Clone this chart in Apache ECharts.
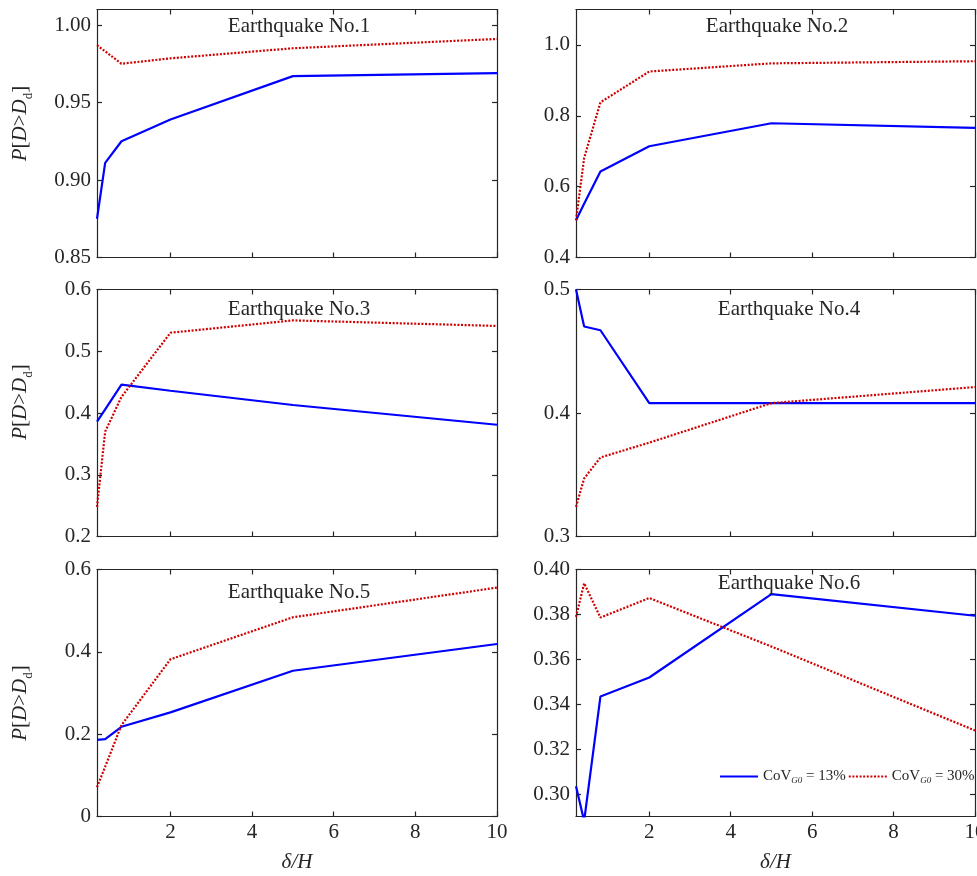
<!DOCTYPE html>
<html>
<head>
<meta charset="utf-8">
<script src="https://cdn.jsdelivr.net/npm/echarts@6/dist/echarts.min.js"></script>
<style>
  html, body { margin: 0; padding: 0; background: #ffffff; }
  #chart { width: 977px; height: 876px; }
</style>
</head>
<body>
<div id="chart"></div>
<script>
// Normalised displacement delta/H
const deltaH = [0.2, 0.4, 0.8, 2, 5, 10];

// Exceedance probability P[D > Dd] for each earthquake record
const eq1Cov13 = [0.875, 0.911, 0.925, 0.939, 0.967, 0.969];
const eq1Cov30 = [0.987, 0.983, 0.975, 0.9785, 0.985, 0.991];
const eq2Cov13 = [0.505, 0.552, 0.643, 0.714, 0.779, 0.766];
const eq2Cov30 = [0.505, 0.681, 0.838, 0.925, 0.948, 0.954];
const eq3Cov13 = [0.386, 0.406, 0.446, 0.436, 0.413, 0.381];
const eq3Cov30 = [0.248, 0.370, 0.426, 0.530, 0.550, 0.541];
const eq4Cov13 = [0.500, 0.470, 0.467, 0.408, 0.408, 0.408];
const eq4Cov30 = [0.324, 0.347, 0.364, 0.376, 0.408, 0.421];
const eq5Cov13 = [0.186, 0.188, 0.218, 0.253, 0.354, 0.419];
const eq5Cov30 = [0.071, 0.121, 0.222, 0.382, 0.484, 0.556];
const eq6Cov13 = [0.3035, 0.288, 0.3434, 0.3519, 0.389, 0.3794];
const eq6Cov30 = [0.3789, 0.3939, 0.3786, 0.3873, 0.3657, 0.3283];

const panelTitles = ['Earthquake No.1', 'Earthquake No.2', 'Earthquake No.3',
                     'Earthquake No.4', 'Earthquake No.5', 'Earthquake No.6'];
const legendNames = ['CoV_G0 = 13%', 'CoV_G0 = 30%'];

// Axis ticks and tick labels
const xTicks = [2, 4, 6, 8, 10];
const xTickLabels = ['2', '4', '6', '8', '10'];
const yTicks1 = [0.85, 0.90, 0.95, 1.00];
const yTickLabels1 = ['0.85', '0.90', '0.95', '1.00'];
const yTicks2 = [0.4, 0.6, 0.8, 1.0];
const yTickLabels2 = ['0.4', '0.6', '0.8', '1.0'];
const yTicks3 = [0.2, 0.3, 0.4, 0.5, 0.6];
const yTickLabels3 = ['0.2', '0.3', '0.4', '0.5', '0.6'];
const yTicks4 = [0.3, 0.4, 0.5];
const yTickLabels4 = ['0.3', '0.4', '0.5'];
const yTicks5 = [0, 0.2, 0.4, 0.6];
const yTickLabels5 = ['0', '0.2', '0.4', '0.6'];
const yTicks6 = [0.30, 0.32, 0.34, 0.36, 0.38, 0.40];
const yTickLabels6 = ['0.30', '0.32', '0.34', '0.36', '0.38', '0.40'];

const xRange = [0.2, 10];
const yRanges = [[0.85, 1.01], [0.4, 1.1], [0.2, 0.6], [0.3, 0.5], [0, 0.6], [0.29, 0.40]];

// ---- presentation ----
const INK = '#262626';
const BLUE = '#0000ff';
const RED = '#d00000';
const SERIF = '"Liberation Serif", "Times New Roman", serif';

const cov13 = [eq1Cov13, eq2Cov13, eq3Cov13, eq4Cov13, eq5Cov13, eq6Cov13];
const cov30 = [eq1Cov30, eq2Cov30, eq3Cov30, eq4Cov30, eq5Cov30, eq6Cov30];
const yTicks = [yTicks1, yTicks2, yTicks3, yTicks4, yTicks5, yTicks6];
const yTickLabels = [yTickLabels1, yTickLabels2, yTickLabels3, yTickLabels4, yTickLabels5, yTickLabels6];

const grids = [
  { left: 97,  top: 9.5,   width: 400, height: 248 },
  { left: 576, top: 9.5,   width: 399, height: 248 },
  { left: 97,  top: 289.5, width: 400, height: 247 },
  { left: 576, top: 289.5, width: 399, height: 247 },
  { left: 97,  top: 569.5, width: 400, height: 247 },
  { left: 576, top: 569.5, width: 399, height: 247 }
];
const titlePos = [
  { x: 299, y: 16 }, { x: 777, y: 16 },
  { x: 299, y: 299 }, { x: 789, y: 299 },
  { x: 299, y: 582 }, { x: 789, y: 573 }
];
// shift of the rotated y-axis caption along the axis (px, + = up)
const yNameShift = [10, 0, 11, 0, -10, 0];

function labelFor(values, labels) {
  return function (v) {
    for (let k = 0; k < values.length; k++) {
      if (Math.abs(values[k] - v) < 1e-9) return labels[k];
    }
    return '';
  };
}

const lineAxis = { show: true, onZero: false, lineStyle: { color: INK, width: 1.2 } };
const tickBase = { inside: true, length: 5, lineStyle: { color: INK, width: 1.2 } };

const xAxes = [], yAxes = [], series = [];
grids.forEach(function (g, i) {
  const bottomRow = i >= 4;
  const leftCol = i % 2 === 0;
  xAxes.push({
    type: 'value', gridIndex: i, position: 'bottom',
    min: xRange[0], max: xRange[1],
    axisLine: lineAxis,
    axisTick: Object.assign({ customValues: xTicks }, tickBase),
    axisLabel: {
      show: bottomRow, customValues: xTicks, margin: 5,
      formatter: labelFor(xTicks, xTickLabels),
      fontFamily: SERIF, fontSize: 21, color: INK
    },
    splitLine: { show: false },
    name: bottomRow ? 'δ/H' : '',
    nameLocation: 'middle', nameGap: 35,
    nameTextStyle: { fontFamily: SERIF, fontStyle: 'italic', fontSize: 21, color: INK }
  });
  xAxes.push({
    type: 'value', gridIndex: i, position: 'top',
    min: xRange[0], max: xRange[1],
    axisLine: lineAxis,
    axisTick: Object.assign({ customValues: xTicks }, tickBase),
    axisLabel: { show: false },
    splitLine: { show: false }
  });
  const sh = yNameShift[i];
  yAxes.push({
    type: 'value', gridIndex: i, position: 'left',
    min: yRanges[i][0], max: yRanges[i][1],
    axisLine: lineAxis,
    axisTick: Object.assign({ customValues: yTicks[i] }, tickBase),
    axisLabel: {
      show: true, customValues: yTicks[i], margin: 6,
      formatter: labelFor(yTicks[i], yTickLabels[i]),
      fontFamily: SERIF, fontSize: 21, color: INK
    },
    splitLine: { show: false },
    name: leftCol ? '{i|P}{n|[}{i|D}{n|>}{i|D}{s|d}{n|]}' : '',
    nameLocation: 'middle', nameRotate: 90, nameGap: 62,
    nameTextStyle: {
      padding: sh >= 0 ? [0, 0, 0, 2 * sh] : [0, -2 * sh, 0, 0],
      rich: {
        i: { fontFamily: SERIF, fontStyle: 'italic', fontSize: 21, lineHeight: 30, color: INK },
        n: { fontFamily: SERIF, fontSize: 21, lineHeight: 30, color: INK },
        s: { fontFamily: SERIF, fontSize: 13, lineHeight: 12, verticalAlign: 'bottom', color: INK }
      }
    }
  });
  yAxes.push({
    type: 'value', gridIndex: i, position: 'right',
    min: yRanges[i][0], max: yRanges[i][1],
    axisLine: lineAxis,
    axisTick: Object.assign({ customValues: yTicks[i] }, tickBase),
    axisLabel: { show: false },
    splitLine: { show: false }
  });

  series.push({
    type: 'line', name: legendNames[0],
    xAxisIndex: 2 * i, yAxisIndex: 2 * i,
    data: deltaH.map(function (x, k) { return [x, cov13[i][k]]; }),
    symbol: 'none', clip: true, silent: true,
    lineStyle: { color: BLUE, width: 2.2, type: 'solid' },
    itemStyle: { color: BLUE }
  });
  series.push({
    type: 'line', name: legendNames[1],
    xAxisIndex: 2 * i, yAxisIndex: 2 * i,
    data: deltaH.map(function (x, k) { return [x, cov30[i][k]]; }),
    symbol: 'none', clip: true, silent: true,
    lineStyle: { color: RED, width: 2.2, type: [2, 1.6] },
    itemStyle: { color: RED }
  });
});

const titles = panelTitles.map(function (t, i) {
  return {
    text: t, left: titlePos[i].x, top: titlePos[i].y, textAlign: 'center',
    padding: 0,
    textStyle: { fontFamily: SERIF, fontSize: 21, fontWeight: 'normal', color: INK }
  };
});

const option = {
  backgroundColor: '#ffffff',
  animation: false,
  title: titles,
  grid: grids.map(function (g) {
    return Object.assign({ containLabel: false, outerBoundsMode: 'none' }, g);
  }),
  xAxis: xAxes,
  yAxis: yAxes,
  legend: {
    left: 719, top: 769, padding: 0,
    itemWidth: 38, itemHeight: 14, itemGap: 2,
    data: legendNames,
    selectedMode: false,
    itemStyle: { opacity: 0 },
    formatter: function (name) {
      const parts = name.split('_G0');
      return parts[0] + '{g|G0}' + parts[1];
    },
    textStyle: {
      fontFamily: SERIF, fontSize: 15, color: INK,
      rich: {
        g: { fontFamily: SERIF, fontStyle: 'italic', fontSize: 9, padding: [8, 0, 0, 0], color: INK }
      }
    }
  },
  series: series
};

const chart = echarts.init(document.getElementById('chart'), null, { renderer: 'canvas' });
chart.setOption(option);
</script>
</body>
</html>
